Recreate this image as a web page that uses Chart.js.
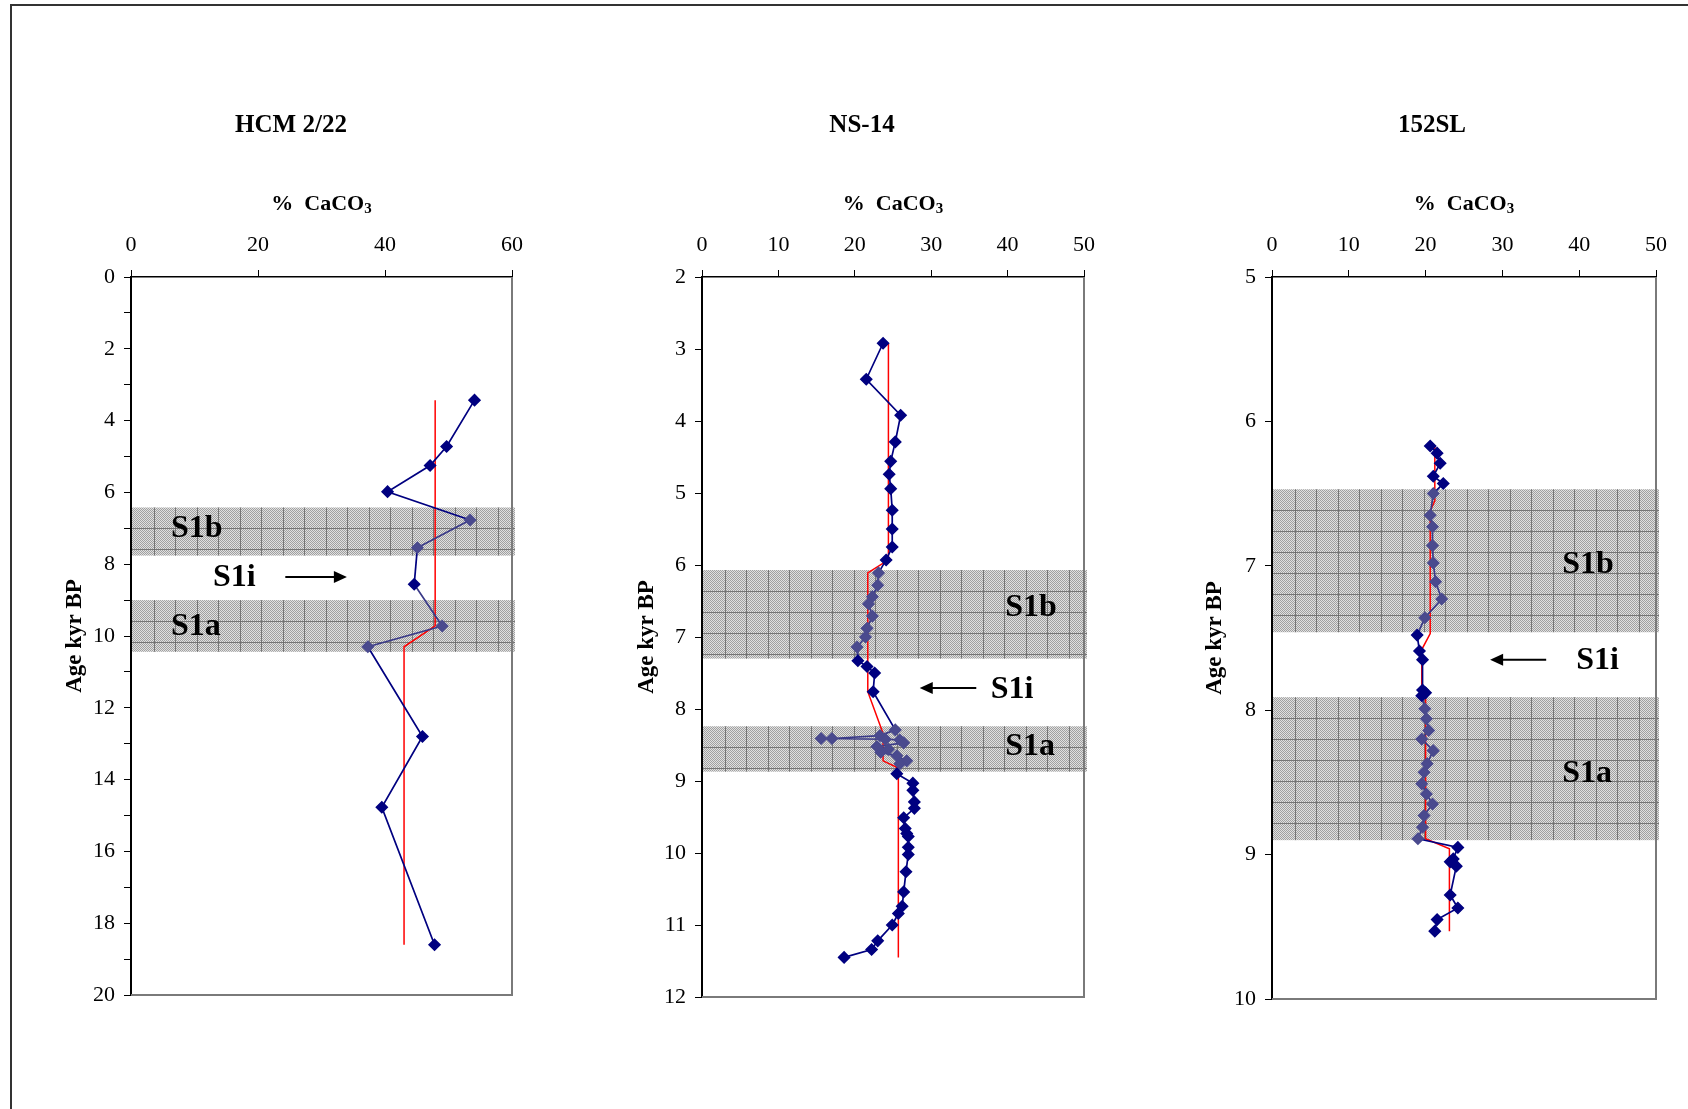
<!DOCTYPE html>
<html>
<head>
<meta charset="utf-8">
<script src="https://cdn.jsdelivr.net/npm/chart.js@4.4.0/dist/chart.umd.min.js"></script>
<style>
  html, body { margin: 0; padding: 0; background: #fff; overflow: hidden; }
  #page { position: relative; width: 1688px; height: 1109px; }
  #frame { position: absolute; left: 10px; top: 4px; right: 0; bottom: 0;
           border-top: 2px solid #333; border-left: 2px solid #333; }
  canvas { position: absolute; top: 0; }
</style>
</head>
<body>
<div id="page">
  <div id="frame"></div>
  <canvas id="hcm" width="580" height="1109" style="left:0px"></canvas>
  <canvas id="ns" width="550" height="1109" style="left:580px"></canvas>
  <canvas id="sl" width="558" height="1109" style="left:1130px"></canvas>
</div>
<script>
// ---- HCM 2/22 ----
const hcmAge   = [3.43, 4.72, 5.25, 5.98, 6.77, 7.54, 8.56, 9.72, 10.3, 12.8, 14.77, 18.6];
const hcmCaco3 = [54.1, 49.7, 47.1, 40.4, 53.4, 45.1, 44.6, 49.0, 37.3, 45.9, 39.5, 47.8];
const hcmMeanAge   = [3.43, 9.72, 10.3, 18.6];
const hcmMeanCaco3 = [47.9, 47.9, 43.0, 43.0];
const hcmBands = [[6.42, 7.76], [9.0, 10.44]];

// ---- NS-14 ----
const nsAge = [2.92, 3.42, 3.92, 4.29, 4.56, 4.74, 4.94, 5.24, 5.50, 5.75, 5.93,
  6.11, 6.28, 6.44, 6.54, 6.71, 6.88, 7.00, 7.14, 7.33, 7.41, 7.50, 7.76,
  8.29, 8.37, 8.41, 8.41, 8.42, 8.43, 8.47, 8.52, 8.56, 8.60, 8.65, 8.72, 8.76,
  8.90, 9.03, 9.13, 9.29, 9.38, 9.51, 9.66, 9.73, 9.77, 9.92, 10.02, 10.26,
  10.54, 10.74, 10.84, 11.00, 11.22, 11.34, 11.45];
const nsCaco3 = [23.7, 21.5, 26.0, 25.3, 24.7, 24.5, 24.7, 24.9, 24.9, 24.9, 24.1,
  23.1, 23.0, 22.3, 21.8, 22.3, 21.6, 21.4, 20.3, 20.4, 21.6, 22.6, 22.4,
  25.3, 23.3, 17.0, 15.6, 24.0, 25.9, 26.4, 22.9, 24.4, 23.4, 25.5, 26.8, 25.9,
  25.5, 27.6, 27.6, 27.8, 27.8, 26.4, 26.6, 26.8, 27.0, 27.0, 27.0, 26.7,
  26.4, 26.2, 25.7, 24.9, 23.0, 22.2, 18.6];
const nsMeanAge   = [2.92, 5.93, 6.11, 7.76, 8.34, 8.72, 8.82, 11.45];
const nsMeanCaco3 = [24.4, 24.4, 21.7, 21.7, 23.7, 23.7, 25.7, 25.7];
const nsBands = [[6.07, 7.30], [8.24, 8.87]];

// ---- 152SL ----
const slAge = [6.17, 6.22, 6.29, 6.38, 6.43, 6.50, 6.65, 6.73, 6.86, 6.98, 7.11, 7.23,
  7.36, 7.48, 7.59, 7.65, 7.86, 7.88, 7.90, 7.99, 8.06, 8.14, 8.20, 8.28, 8.37,
  8.43, 8.51, 8.58, 8.65, 8.73, 8.81, 8.89, 8.95, 9.03, 9.05, 9.08, 9.28, 9.37,
  9.45, 9.53];
const slCaco3 = [20.6, 21.5, 21.9, 21.0, 22.3, 21.0, 20.6, 20.9, 20.9, 21.0, 21.3, 22.1,
  19.9, 18.9, 19.2, 19.6, 19.6, 20.0, 19.5, 19.9, 20.1, 20.4, 19.5, 21.0, 20.2,
  19.8, 19.5, 20.1, 20.9, 19.8, 19.6, 19.0, 24.2, 23.6, 23.2, 24.0, 23.2, 24.2,
  21.5, 21.2];
const slMeanAge   = [6.17, 6.55, 6.62, 7.47, 7.58, 7.86, 7.92, 8.89, 8.96, 9.53];
const slMeanCaco3 = [21.2, 21.2, 20.6, 20.6, 19.5, 19.5, 20.0, 20.0, 23.1, 23.1];
const slBands = [[6.47, 7.46], [7.91, 8.90]];

const SERIF = "'Liberation Serif', 'Times New Roman', serif";
const NAVY = '#000080';
const NAVY_IN_BAND = '#4a4a8e';

// fine grey checker used to fill the sapropel bands
function hatchPattern(ctx) {
  const c = document.createElement('canvas');
  c.width = 2; c.height = 2;
  const g = c.getContext('2d');
  g.fillStyle = '#e0e0e0'; g.fillRect(0, 0, 2, 2);
  g.fillStyle = '#a0a0a0'; g.fillRect(0, 0, 1, 1); g.fillRect(1, 1, 1, 1);
  return ctx.createPattern(c, 'repeat');
}

const panelDecor = {
  id: 'panelDecor',
  beforeDatasetsDraw(chart, args, o) {
    const {ctx, chartArea: a, scales: {x, y}} = chart;
    o.bands.forEach(b => {
      const top = y.getPixelForValue(b[0]), bot = y.getPixelForValue(b[1]);
      const left = a.left + 1, right = a.right + 3;
      ctx.save();
      ctx.fillStyle = hatchPattern(ctx);
      ctx.fillRect(left, top, right - left, bot - top);
      ctx.strokeStyle = 'rgba(105,105,105,0.85)';
      ctx.lineWidth = 1;
      ctx.beginPath();
      for (let gx = left + 21.5; gx < right - 2; gx += 21.5) {
        ctx.moveTo(Math.round(gx) + 0.5, top); ctx.lineTo(Math.round(gx) + 0.5, bot);
      }
      for (let gy = top + 21; gy < bot - 2; gy += 21) {
        ctx.moveTo(left, Math.round(gy) + 0.5); ctx.lineTo(right, Math.round(gy) + 0.5);
      }
      ctx.stroke();
      ctx.restore();
    });
  },
  afterDraw(chart, args, o) {
    const {ctx, chartArea: a, scales: {x, y}} = chart;
    ctx.save();
    // right and bottom frame of the plot
    ctx.strokeStyle = '#7a7a7a';
    ctx.lineWidth = 2;
    ctx.beginPath();
    ctx.moveTo(a.right, a.top); ctx.lineTo(a.right, a.bottom); ctx.lineTo(a.left, a.bottom);
    ctx.stroke();

    ctx.fillStyle = '#000';
    ctx.textBaseline = 'middle';

    // core name
    ctx.font = 'bold 25px ' + SERIF;
    ctx.textAlign = 'center';
    ctx.fillText(o.title, a.left + 160, 126);

    // axis title with a real subscript 3
    const main = '%  CaCO', sub = '3';
    ctx.font = 'bold 22px ' + SERIF;
    const wMain = ctx.measureText(main).width;
    ctx.font = 'bold 15px ' + SERIF;
    const wSub = ctx.measureText(sub).width;
    const tx = (a.left + a.right) / 2 - (wMain + wSub) / 2;
    ctx.textAlign = 'left';
    ctx.textBaseline = 'alphabetic';
    ctx.font = 'bold 22px ' + SERIF;
    ctx.fillText(main, tx, 210);
    ctx.font = 'bold 15px ' + SERIF;
    ctx.fillText(sub, tx + wMain, 213);

    // S1a / S1b / S1i labels
    ctx.textBaseline = 'middle';
    ctx.font = 'bold 32px ' + SERIF;
    o.labels.forEach(l => {
      ctx.fillText(l.text, x.getPixelForValue(l.x), y.getPixelForValue(l.y));
    });

    // arrow
    const x0 = x.getPixelForValue(o.arrow.from), x1 = x.getPixelForValue(o.arrow.to);
    const ay = y.getPixelForValue(o.arrow.y);
    const dir = Math.sign(x1 - x0);
    ctx.strokeStyle = '#000';
    ctx.lineWidth = 2;
    ctx.beginPath();
    ctx.moveTo(x0, ay); ctx.lineTo(x1 - dir * 10, ay);
    ctx.stroke();
    ctx.beginPath();
    ctx.moveTo(x1, ay);
    ctx.lineTo(x1 - dir * 13, ay - 6);
    ctx.lineTo(x1 - dir * 13, ay + 6);
    ctx.closePath();
    ctx.fill();
    ctx.restore();
  }
};

function makePanel(id, p) {
  const inBand = v => p.bands.some(b => v >= b[0] && v <= b[1]);
  const pts = p.caco3.map((v, i) => ({x: v, y: p.age[i]}));
  const meanPts = p.meanCaco3.map((v, i) => ({x: v, y: p.meanAge[i]}));
  const pointColor = c => (c.raw && inBand(c.raw.y)) ? NAVY_IN_BAND : NAVY;

  new Chart(document.getElementById(id), {
    type: 'scatter',
    data: {
      datasets: [{
        data: pts,
        showLine: true,
        borderColor: NAVY,
        borderWidth: 1.7,
        pointStyle: 'rectRot',
        pointRadius: 5.5,
        pointBorderWidth: 1.5,
        pointBackgroundColor: pointColor,
        pointBorderColor: pointColor,
        segment: {
          borderColor: c => inBand((c.p0.parsed.y + c.p1.parsed.y) / 2) ? '#3a3a88' : NAVY
        },
        order: 0
      }, {
        data: meanPts,
        showLine: true,
        borderColor: '#ff0000',
        borderWidth: 1.5,
        pointRadius: 0,
        order: 1
      }]
    },
    options: {
      responsive: false,
      animation: false,
      layout: { padding: { left: 0, top: 190, right: p.padRight, bottom: p.padBottom } },
      plugins: {
        legend: { display: false },
        tooltip: { enabled: false },
        panelDecor: { title: p.title, bands: p.bands, labels: p.labels, arrow: p.arrow }
      },
      scales: {
        x: {
          type: 'linear',
          position: 'top',
          min: 0,
          max: p.xMax,
          ticks: { stepSize: p.xStep, padding: 12, color: '#000', font: { family: SERIF, size: 22 } },
          grid: { drawOnChartArea: false, drawTicks: true, tickLength: 7, color: '#000' },
          border: { display: true, color: '#000', width: 1.5 },
          title: { display: false },
          afterFit(s) { s.height = 87; }
        },
        y: {
          type: 'linear',
          reverse: true,
          min: p.yMin,
          max: p.yMax,
          ticks: {
            stepSize: 1, autoSkip: false, padding: 9, color: '#000',
            font: { family: SERIF, size: 22 },
            callback: v => (p.everyOther && v % 2 !== 0) ? '' : v
          },
          grid: { drawOnChartArea: false, drawTicks: true, tickLength: 7, color: '#000' },
          border: { display: true, color: '#000', width: 2 },
          title: {
            display: true, text: 'Age kyr BP', color: '#000',
            font: { family: SERIF, size: 23, weight: 'bold' }, padding: { top: p.yTitlePad, bottom: 0 }
          },
          afterFit(s) { s.width = p.yWidth; }
        }
      }
    },
    plugins: [panelDecor]
  });
}

makePanel('hcm', {
  title: 'HCM 2/22', age: hcmAge, caco3: hcmCaco3, meanAge: hcmMeanAge, meanCaco3: hcmMeanCaco3,
  bands: hcmBands, xMax: 60, xStep: 20, yMin: 0, yMax: 20, everyOther: true,
  yWidth: 131, yTitlePad: 61, padRight: 68, padBottom: 114,
  labels: [{text: 'S1b', x: 6.3, y: 7.02}, {text: 'S1i', x: 12.9, y: 8.38}, {text: 'S1a', x: 6.3, y: 9.74}],
  arrow: {from: 24.3, to: 34.0, y: 8.36}
});

makePanel('ns', {
  title: 'NS-14', age: nsAge, caco3: nsCaco3, meanAge: nsMeanAge, meanCaco3: nsMeanCaco3,
  bands: nsBands, xMax: 50, xStep: 10, yMin: 2, yMax: 12, everyOther: false,
  yWidth: 122, yTitlePad: 53, padRight: 46, padBottom: 112,
  labels: [{text: 'S1b', x: 39.7, y: 6.59}, {text: 'S1i', x: 37.8, y: 7.73}, {text: 'S1a', x: 39.7, y: 8.52}],
  arrow: {from: 35.9, to: 28.5, y: 7.71}
});

makePanel('sl', {
  title: '152SL', age: slAge, caco3: slCaco3, meanAge: slMeanAge, meanCaco3: slMeanCaco3,
  bands: slBands, xMax: 50, xStep: 10, yMin: 5, yMax: 10, everyOther: false,
  yWidth: 142, yTitlePad: 71, padRight: 32, padBottom: 110,
  labels: [{text: 'S1b', x: 37.8, y: 6.99}, {text: 'S1i', x: 39.6, y: 7.66}, {text: 'S1a', x: 37.8, y: 8.44}],
  arrow: {from: 35.7, to: 28.4, y: 7.65}
});
</script>
</body>
</html>
